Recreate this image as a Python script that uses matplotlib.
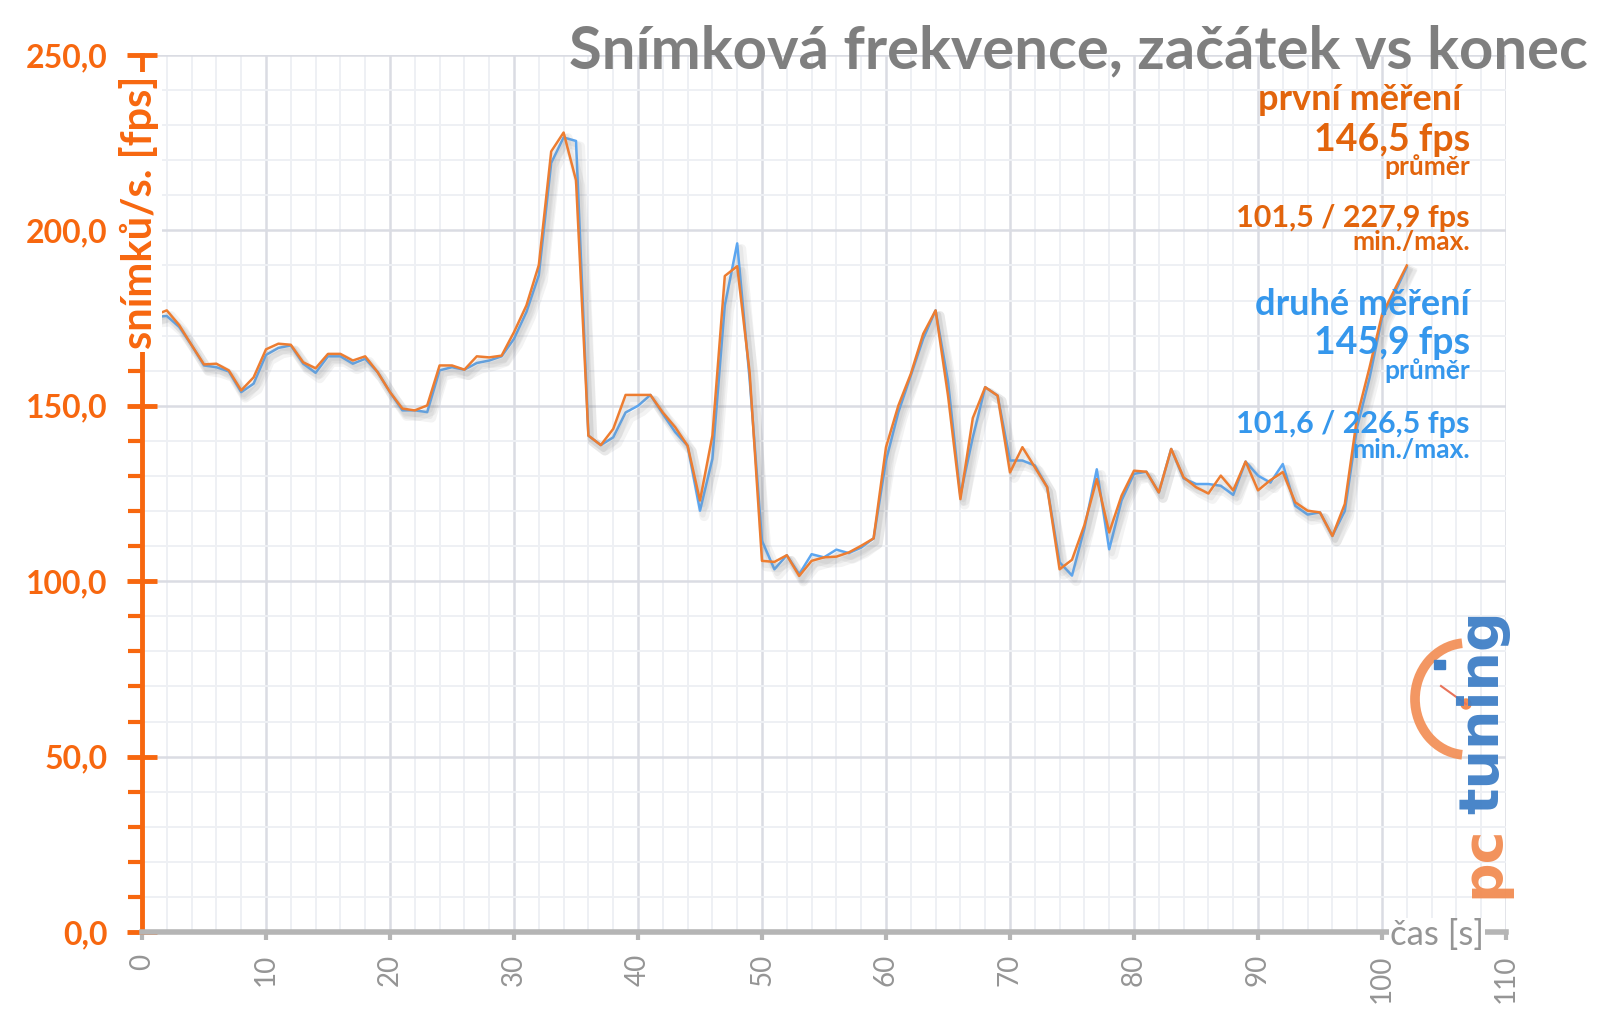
#!/usr/bin/env python3
"""Snímková frekvence - first vs second measurement (fps over time)."""

import matplotlib
matplotlib.use('Agg')
import matplotlib.pyplot as plt
import matplotlib.patheffects as pe
from matplotlib.patches import Arc, Circle, Rectangle
from matplotlib.ticker import MultipleLocator, FuncFormatter

plt.rcParams['font.family'] = ['Lato', 'DejaVu Sans']

# --- data -------------------------------------------------------------
seconds = list(range(1, 103))

first_run = [
    175.8, 177.2, 173.0, 167.3, 161.8, 162.0, 160.1, 154.4, 158.1, 166.1,
    167.7, 167.4, 162.4, 160.7, 164.8, 164.8, 162.9, 164.1, 159.6, 153.9,
    149.2, 148.7, 150.1, 161.5, 161.5, 160.3, 164.1, 163.8, 164.3, 171.0,
    178.6, 190.1, 222.5, 227.9, 214.3, 141.5, 138.8, 143.4, 153.1, 153.1,
    153.1, 148.1, 143.9, 138.6, 123.0, 141.5, 187.0, 189.8, 159.6, 105.8,
    105.5, 107.4, 101.5, 105.8, 106.8, 107.0, 108.2, 110.1, 112.2, 138.2,
    150.1, 159.1, 170.5, 177.2, 153.0, 123.4, 146.5, 155.3, 152.9, 131.0,
    138.2, 132.5, 126.8, 103.4, 106.1, 116.0, 129.1, 113.9, 124.4, 131.5,
    131.2, 125.3, 137.7, 129.6, 126.8, 125.0, 130.1, 125.9, 134.1, 125.9,
    128.8, 131.1, 122.5, 120.1, 119.6, 112.9, 122.0, 147.0, 161.0, 176.0,
    183.0, 190.0,
]

second_run = [
    175.3, 175.6, 172.5, 167.3, 161.5, 161.0, 159.8, 153.9, 156.3, 164.5,
    166.5, 167.2, 162.0, 159.4, 164.1, 164.1, 162.0, 163.4, 159.6, 153.9,
    148.7, 148.7, 148.2, 160.1, 161.0, 160.3, 162.2, 162.9, 164.1, 169.1,
    176.7, 187.2, 219.2, 226.5, 225.5, 141.5, 138.8, 141.0, 148.1, 150.0,
    153.1, 147.7, 142.5, 138.6, 120.1, 134.9, 178.6, 196.3, 157.7, 111.5,
    103.4, 107.4, 102.0, 107.7, 106.8, 109.0, 108.0, 109.6, 112.2, 134.4,
    148.2, 158.6, 169.1, 177.2, 157.0, 124.5, 141.0, 155.3, 152.9, 134.4,
    134.4, 133.0, 126.8, 105.4, 101.6, 115.0, 131.9, 109.1, 123.0, 130.6,
    131.2, 125.3, 137.7, 129.3, 127.7, 127.7, 127.2, 124.6, 134.1, 130.1,
    128.1, 133.4, 121.5, 119.0, 119.6, 112.9, 120.0, 144.0, 158.0, 175.0,
    182.0, 189.5,
]

title = 'Snímková frekvence, začátek vs konec'
first_lines = ['první měření ', '146,5 fps', 'průměr', '101,5 / 227,9 fps', 'min./max.']
second_lines = ['druhé měření', '145,9 fps', 'průměr', '101,6 / 226,5 fps', 'min./max.']

# --- style ------------------------------------------------------------
ORANGE_LINE = '#ED7D31'
BLUE_LINE = '#5CA6F0'
ORANGE_AXIS = '#F7670F'
ORANGE_TEXT = '#E2640C'
BLUE_TEXT = '#3597EC'
GRAY_TITLE = '#7F7F7F'
GRAY_TICK = '#959595'

W, H = 1600, 1015
fig = plt.figure(figsize=(W / 100, H / 100), dpi=100)
ax = fig.add_axes([142 / W, 1 - 932 / H, (1506 - 142) / W, (932 - 55) / H])

shadow = [pe.SimpleLineShadow(offset=(3, -4), shadow_color='#8a8a8a', alpha=0.10, linewidth=7),
          pe.SimpleLineShadow(offset=(2, -3), shadow_color='#8a8a8a', alpha=0.10, linewidth=4),
          pe.Normal()]
ax.plot(seconds, second_run, color=BLUE_LINE, lw=1.8, path_effects=shadow, zorder=3)
ax.plot(seconds, first_run, color=ORANGE_LINE, lw=1.8, path_effects=shadow, zorder=4)

ax.set_xlim(0, 110)
ax.set_ylim(0, 250)
ax.xaxis.set_major_locator(MultipleLocator(10))
ax.xaxis.set_minor_locator(MultipleLocator(2))
ax.yaxis.set_major_locator(MultipleLocator(50))
ax.yaxis.set_minor_locator(MultipleLocator(10))
ax.grid(which='major', color='#DADCE3', lw=1.8, zorder=0)
ax.grid(which='minor', color='#EEF0F4', lw=1.4, zorder=0)
ax.set_axisbelow(True)

for s in ('top', 'right'):
    ax.spines[s].set_visible(False)
ax.spines['left'].set_color(ORANGE_AXIS)
ax.spines['left'].set_linewidth(3.5)
ax.spines['bottom'].set_color('#B5B5B5')
ax.spines['bottom'].set_linewidth(4)

ax.yaxis.set_major_formatter(FuncFormatter(lambda v, p: f'{v:.1f}'.replace('.', ',')))
ax.tick_params(axis='y', which='major', direction='inout', length=22, width=3.5,
               color=ORANGE_AXIS, labelcolor=ORANGE_AXIS, labelsize=23, pad=14)
ax.tick_params(axis='y', which='minor', direction='out', length=10, width=3,
               color=ORANGE_AXIS)
for lbl in ax.get_yticklabels():
    lbl.set_fontweight('bold')
ax.tick_params(axis='x', which='major', direction='out', length=6, width=3,
               color='#B5B5B5', labelcolor=GRAY_TICK, labelsize=20, pad=10,
               labelrotation=90)
ax.tick_params(axis='x', which='minor', length=0)

# axis titles sitting on the axis lines
fig.text(139 / W, 1 - 212 / H, 'snímků/s. [fps]', rotation=90, ha='center', va='center',
         color=ORANGE_AXIS, fontsize=30, fontweight='bold',
         bbox=dict(facecolor='white', edgecolor='none', pad=2))
fig.text(1437 / W, 1 - 935 / H, 'čas [s]', ha='center', va='center',
         color=GRAY_TICK, fontsize=25,
         bbox=dict(facecolor='white', edgecolor='none', pad=1))

fig.text(1588 / W, 1 - 68 / H, title, ha='right', va='baseline',
         color=GRAY_TITLE, fontsize=43, fontweight='bold')

# summary annotations on the right
sizes = [26, 27, 19, 22, 19]
first_base = [110, 151, 175, 227, 250]
second_base = [315, 354, 379, 433, 458]
for txt, size, yb in zip(first_lines, sizes, first_base):
    fig.text(1470 / W, 1 - yb / H, txt, ha='right', va='baseline',
             color=ORANGE_TEXT, fontsize=size, fontweight='bold')
for txt, size, yb in zip(second_lines, sizes, second_base):
    fig.text(1470 / W, 1 - yb / H, txt, ha='right', va='baseline',
             color=BLUE_TEXT, fontsize=size, fontweight='bold')

# pctuning watermark
ov = fig.add_axes([0, 0, 1, 1], zorder=5)
ov.set_xlim(0, W)
ov.set_ylim(H, 0)
ov.axis('off')
ov.add_patch(Arc((1467, 699), 104, 112, theta1=95, theta2=265, lw=7, color='#F28C52', alpha=0.9))
ov.add_patch(Rectangle((1434, 660), 11, 9, color='#3F7FC6'))
ov.plot([1441, 1466], [686, 704], color='#E8735A', lw=1.5)
ov.add_patch(Circle((1466, 704), 5, color='#F28C52'))
ov.text(1483, 712, 'tuning', rotation=90, ha='center', va='center', color='#3F7FC6',
        fontsize=40, fontweight='bold', family='DejaVu Sans', alpha=0.95)
ov.text(1483, 862, 'pc', rotation=90, ha='center', va='center', color='#F28C52',
        fontsize=40, fontweight='bold', family='DejaVu Sans', alpha=0.95)

fig.savefig('out.png', dpi=100)
